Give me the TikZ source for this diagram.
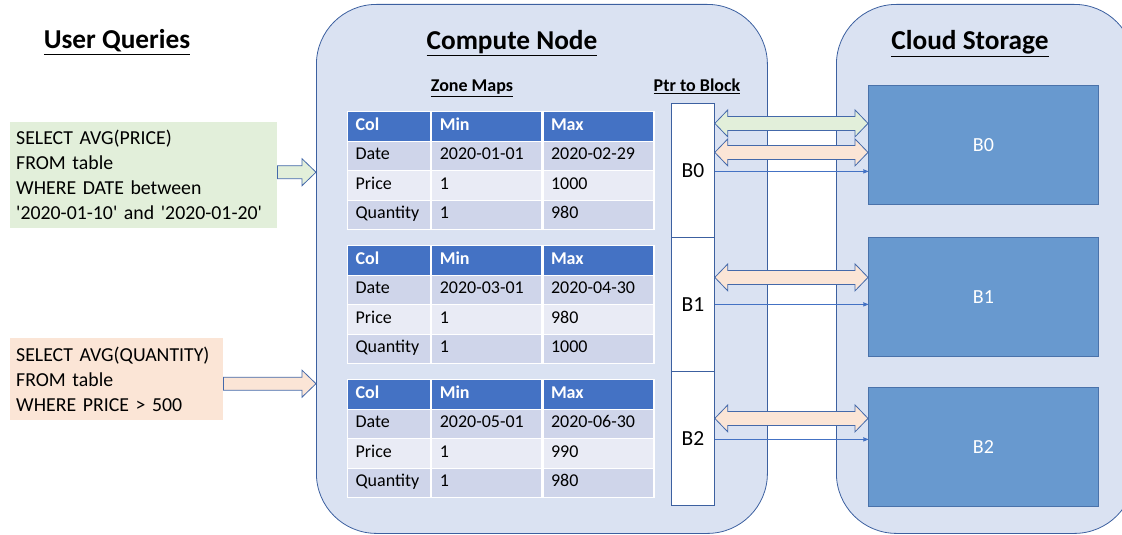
\documentclass[tikz,border=0pt]{standalone}
\usepackage{fontspec}
\setmainfont{Carlito}
\usepackage{tikz}
\usetikzlibrary{arrows,calc,positioning}
\definecolor{panelfill}{RGB}{218,226,242}
\definecolor{panelline}{RGB}{60,96,160}
\definecolor{headblue}{RGB}{68,114,196}
\definecolor{rowdark}{RGB}{207,213,234}
\definecolor{rowlight}{RGB}{233,235,245}
\definecolor{blockblue}{RGB}{104,153,207}
\definecolor{blockline}{RGB}{74,114,170}
\definecolor{qgreen}{RGB}{226,239,218}
\definecolor{qorange}{RGB}{251,229,214}
\definecolor{arrowline}{RGB}{68,105,170}

\newcommand{\fatdouble}[3]{%
  \draw[fatline, fill=#1] let \p1=(#2), \p2=(#3) in
    (\x1,\y1) -- (\x1+13pt,\y1+13.5pt) -- (\x1+13pt,\y1+7pt) -- (\x2-13pt,\y1+7pt)
    -- (\x2-13pt,\y1+13.5pt) -- (\x2,\y1) -- (\x2-13pt,\y1-13.5pt) -- (\x2-13pt,\y1-7pt)
    -- (\x1+13pt,\y1-7pt) -- (\x1+13pt,\y1-13.5pt) -- cycle;}
\newcommand{\fatsingle}[3]{%
  \draw[fatline, fill=#1] let \p1=(#2), \p2=(#3) in
    (\x1,\y1+6.5pt) -- (\x2-14pt,\y1+6.5pt) -- (\x2-14pt,\y1+13.5pt) -- (\x2,\y1)
    -- (\x2-14pt,\y1-13.5pt) -- (\x2-14pt,\y1-6.5pt) -- (\x1,\y1-6.5pt) -- cycle;}

\begin{document}
\begin{tikzpicture}[x=1pt,y=-1pt]
  \tikzstyle{every node} = [inner sep=0pt];
  \tikzstyle{panel} = [draw=panelline, fill=panelfill, line width=0.8pt, rounded corners=60pt, anchor=north west];
  \tikzstyle{title} = [anchor=base, font=\bfseries\fontsize{27.3}{31}\selectfont];
  \tikzstyle{subtitle} = [anchor=base, font=\bfseries\fontsize{18}{21}\selectfont];
  \tikzstyle{query} = [anchor=north west, inner xsep=6pt, align=left, font=\fontsize{19.8}{25}\selectfont];
  \tikzstyle{cell} = [draw=white, line width=1.2pt, anchor=north west, minimum height=29.5pt, inner xsep=8pt,
                      text height=12pt, text depth=4pt, align=left, font=\fontsize{18}{21}\selectfont];
  \tikzstyle{colA} = [text width=67pt];
  \tikzstyle{colB} = [text width=94pt];
  \tikzstyle{colC} = [text width=95pt];
  \tikzstyle{head} = [fill=headblue, text=white, font=\bfseries\fontsize{18}{21}\selectfont];
  \tikzstyle{ptrcell} = [draw=panelline, fill=white, line width=0.8pt, anchor=north west,
                         minimum width=43pt, minimum height=134pt, font=\fontsize{21.5}{24}\selectfont];
  \tikzstyle{blk} = [draw=blockline, fill=blockblue, line width=0.8pt, anchor=north west, text=white,
                     minimum width=230pt, minimum height=118.5pt, font=\fontsize{20}{24}\selectfont];
  \tikzstyle{fatline} = [draw=arrowline, line width=0.8pt, line join=miter];
  \tikzstyle{ptrline} = [->, >=stealth', draw=headblue, line width=0.8pt];
  \useasboundingbox (0,0) rectangle (1122,535);
  \begin{scope}
    \node[panel, minimum width=451pt, minimum height=529pt] (compute) at (316,4) {};
    \node[panel, minimum width=298pt, minimum height=529pt] (cloud) at (836,4) {};

    \node[title] (uqtitle) at (117,49) {\underline{User Queries}};
    \node[title] (cntitle) at (512,50) {\underline{Compute Node}};
    \node[title] (cstitle) at (970,50) {\underline{Cloud Storage}};
    \node[subtitle] (zmtitle) at (472,91.5) {\underline{Zone Maps}};
    \node[subtitle] (ptrtitle) at (697,91.5) {\underline{Ptr to Block}};

    \node[query, fill=qgreen, text width=255pt, minimum height=106pt] (q0) at (10,122)
      {SELECT AVG(PRICE)\\FROM table\\WHERE DATE between\\\textquotesingle 2020-01-10\textquotesingle{} and \textquotesingle 2020-01-20\textquotesingle};
    \node[query, fill=qorange, text width=201pt, minimum height=82pt] (q1) at (10,338)
      {SELECT AVG(QUANTITY)\\FROM table\\WHERE PRICE > 500};

    \foreach \t/\ty/\dmin/\dmax/\pmax/\qmax in {0/111/2020-01-01/2020-02-29/1000/980,
                                               1/245/2020-03-01/2020-04-30/980/1000,
                                               2/379/2020-05-01/2020-06-30/990/980}{
      \node[cell, colA, head] (h\t-a) at (347,\ty) {Col};
      \node[cell, colB, head, right=0pt of h\t-a] (h\t-b) {Min};
      \node[cell, colC, head, right=0pt of h\t-b] (h\t-c) {Max};
      \foreach \r/\rname/\rmin/\rmax/\rfill in {1/Date/\dmin/\dmax/rowdark,
                                               2/Price/1/\pmax/rowlight,
                                               3/Quantity/1/\qmax/rowdark}{
        \node[cell, colA, fill=\rfill] (r\t\r-a) at (347,{\ty+29.5*\r}) {\rname};
        \node[cell, colB, fill=\rfill, right=0pt of r\t\r-a] (r\t\r-b) {\rmin};
        \node[cell, colC, fill=\rfill, right=0pt of r\t\r-b] (r\t\r-c) {\rmax};
      }
    }

    \foreach \b/\by in {0/103,1/237,2/371}{
      \node[ptrcell] (p\b) at (671,\by) {B\b};
    }
    \foreach \b/\by in {0/85,1/237,2/387}{
      \node[blk] (c\b) at (868,\by) {B\b};
    }

    \coordinate (qa0) at ([yshift=3pt]q0.east);
    \coordinate (qa1) at ([yshift=-4.5pt]q1.east);
    \fatsingle{qgreen}{qa0}{compute.west |- qa0}
    \fatsingle{qorange}{qa1}{compute.west |- qa1}

    \coordinate (g0) at ([yshift=47pt]p0.east);
    \fatdouble{qgreen}{g0}{c0.west |- g0}
    \foreach \b/\oy/\ty in {0/18/-1, 1/27/0, 2/20/-1}{
      \coordinate (o\b) at ([yshift=\oy pt]p\b.east);
      \coordinate (t\b) at ([yshift=\ty pt]p\b.east);
      \fatdouble{qorange}{o\b}{c\b.west |- o\b}
      \draw[ptrline] (t\b) -- (c\b.west |- t\b);
    }
  \end{scope}
\end{tikzpicture}
\end{document}
